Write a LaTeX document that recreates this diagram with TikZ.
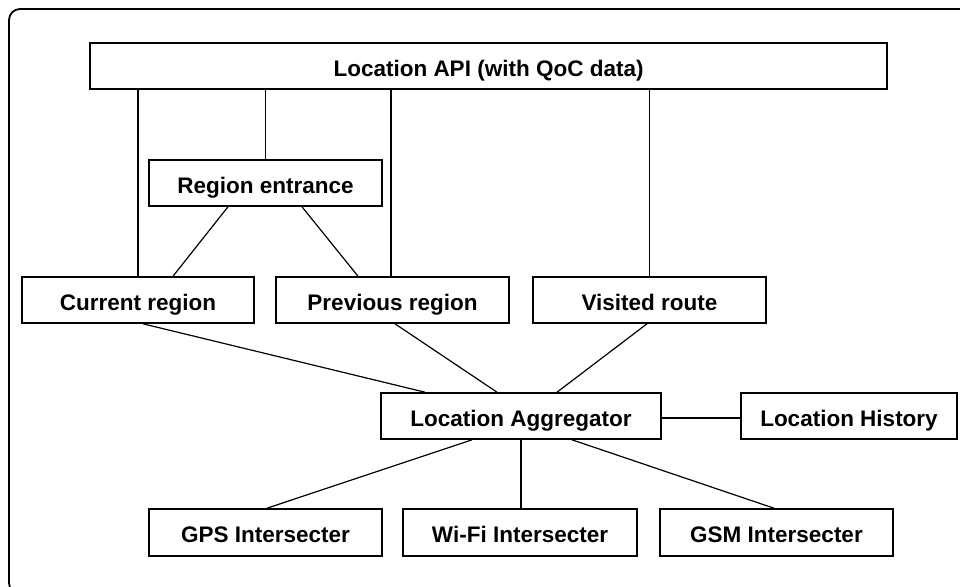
\documentclass[tikz,border=0pt]{standalone}
\usepackage{fontspec}
\setmainfont{Liberation Sans}
\begin{document}
\begin{tikzpicture}[x=1pt,y=-1pt,
  box/.style={draw, line width=1.6pt, inner sep=0pt, minimum height=46pt,
    text height=20pt, text depth=0pt,
    font=\fontsize{22.5}{24}\selectfont\bfseries, text=black},
  link/.style={line width=1.2pt}]
\useasboundingbox (0,0) rectangle (960,586);
\begin{scope}
  \clip (0,0) rectangle (960,586);
  \draw[line width=1.8pt, rounded corners=11pt] (9,9) rectangle (1000,594);
\end{scope}
\node[box, minimum width=797pt] (api) at (488.5,66) {Location API (with QoC data)};
\node[box, minimum width=233pt] (re) at (265.5,183) {Region entrance};
\node[box, minimum width=232pt] (cr) at (138,300) {Current region};
\node[box, minimum width=233pt] (pr) at (392.5,300) {Previous region};
\node[box, minimum width=233pt] (vr) at (649.5,300) {Visited route};
\node[box, minimum width=280pt] (agg) at (521,416) {Location Aggregator};
\node[box, minimum width=216pt] (lh) at (849,416) {Location History};
\node[box, minimum width=233pt, minimum height=47pt] (gps) at (265.5,532.5) {GPS Intersecter};
\node[box, minimum width=234pt, minimum height=47pt] (wifi) at (520,532.5) {Wi-Fi Intersecter};
\node[box, minimum width=233pt, minimum height=47pt] (gsm) at (776.5,532.5) {GSM Intersecter};
% API connectors
\draw[link] (cr.north) -- (cr.north |- api.south);
\draw[link] (re.north) -- (re.north |- api.south);
\draw[link] ([xshift=-1.5pt]pr.north) -- ([xshift=-1.5pt]pr.north |- api.south);
\draw[link] (vr.north) -- (vr.north |- api.south);
% region entrance
\draw[link] ([xshift=-37.5pt]re.south) -- ([xshift=35pt]cr.north);
\draw[link] ([xshift=36.5pt]re.south) -- ([xshift=-34.5pt]pr.north);
% to aggregator
\draw[link] ([xshift=5pt]cr.south) -- ([xshift=-96pt]agg.north);
\draw[link] ([xshift=2.5pt]pr.south) -- ([xshift=-24pt]agg.north);
\draw[link] ([xshift=-2.5pt]vr.south) -- ([xshift=36pt]agg.north);
\draw[link] ([yshift=-2pt]agg.east) -- ([yshift=-2pt]lh.west);
% intersecters
\draw[link] ([xshift=-49pt]agg.south) -- ([xshift=1.5pt]gps.north);
\draw[link] (agg.south) -- (agg.south |- wifi.north);
\draw[link] ([xshift=51pt]agg.south) -- ([xshift=-2.5pt]gsm.north);
\end{tikzpicture}
\end{document}
